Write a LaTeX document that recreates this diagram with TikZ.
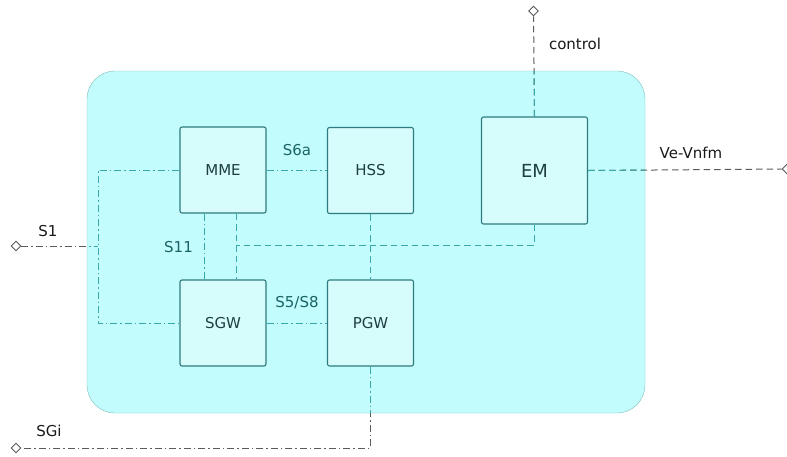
\documentclass[tikz,border=0pt]{standalone}
\usepackage{fontspec}
\setmainfont{DejaVu Sans}
\usetikzlibrary{shapes.geometric,backgrounds}
\definecolor{panelfill}{HTML}{C2FCFC}
\definecolor{panelline}{HTML}{7FBDBF}
\definecolor{boxfill}{HTML}{D6FCFC}
\definecolor{boxline}{HTML}{2E7C7F}
\definecolor{boxtext}{HTML}{1E3E40}
\definecolor{wire}{HTML}{38A8AA}
\definecolor{outwire}{HTML}{5A5A5A}
\definecolor{ifname}{HTML}{1A6467}
\tikzset{
  nf/.style={draw=boxline,fill=boxfill,rounded corners=2pt,line width=1.1pt,
    minimum width=86pt,minimum height=86pt,text=boxtext,font=\fontsize{15}{17}\selectfont},
  port/.style={diamond,draw=outwire,fill=white,inner sep=0pt,minimum size=10pt,line width=.9pt},
  ddot/.style={dash pattern=on 7pt off 3pt on 1.5pt off 3pt,line width=1pt},
  dsh/.style={dash pattern=on 6.5pt off 4pt,line width=1pt},
  ifl/.style={text=ifname,font=\fontsize{15}{17}\selectfont},
  extl/.style={text=black!90,font=\fontsize{15}{17}\selectfont}
}
\begin{document}
\begin{tikzpicture}[x=1pt,y=-1pt]
\useasboundingbox (0,0) rectangle (787,456);
% network functions
\node[nf] (mme) at (223,170) {MME};
\node[nf] (hss) at (370.5,170.5) {HSS};
\node[nf,minimum width=106pt,minimum height=107pt,font=\fontsize{18}{20}\selectfont] (em) at (534.5,170.5) {EM};
\node[nf] (sgw) at (223,323) {SGW};
\node[nf] (pgw) at (370.5,323) {PGW};
% external ports
\node[port] (s1) at (16,246) {};
\node[port] (sgi) at (16,448) {};
\node[port] (ctl) at (533.5,11) {};
\node[port] (vnfm) at (787,169) {};
\coordinate (j1) at (98,246);
\coordinate (j2) at (236,245);
\begin{pgfonlayer}{background}
% vEPC panel
\draw[fill=panelfill,draw=panelline,rounded corners=28pt] (87,71) rectangle (645,413);
% external links, grey outside the panel
\draw[ddot,outwire] (s1) -- (j1);
\draw[ddot,outwire] (pgw.south) |- (sgi);
\draw[dsh,outwire] (em.north) -- (ctl);
\draw[dsh,outwire] (em.east) -- (vnfm);
\begin{scope}
\clip[rounded corners=28pt] (87,71) rectangle (645,413);
\draw[ddot,wire] (s1) -- (j1);
\draw[ddot,wire] (pgw.south) |- (sgi);
\draw[dsh,wire] (em.north) -- (ctl);
\draw[dsh,wire] (em.east) -- (vnfm);
\end{scope}
% internal links
\draw[ddot,wire] (mme.west) -| (j1) |- (sgw.west);
\draw[ddot,wire] (mme.east) -- (mme.east -| hss.west);
\draw[ddot,wire] ([xshift=-19pt]mme.south) -- ([xshift=-19pt]sgw.north);
\draw[dsh,wire] ([xshift=13pt]mme.south) -- ([xshift=13pt]sgw.north);
\draw[dsh,wire] (em.south) |- (j2);
\draw[dsh,wire] (hss.south) -- (pgw.north);
\draw[ddot,wire] (sgw.east) -- (sgw.east -| pgw.west);
\end{pgfonlayer}
% interface names
\node[ifl] (l6a) at (297,150) {S6a};
\node[ifl] (l11) at (178.5,247) {S11};
\node[ifl] (l58) at (297,303) {S5/S8};
\node[extl] (ls1) at (48,231) {S1};
\node[extl] (lsgi) at (49,431) {SGi};
\node[extl] (lctl) at (575,44) {control};
\node[extl] (lve) at (691,153) {Ve-Vnfm};
\end{tikzpicture}
\end{document}
